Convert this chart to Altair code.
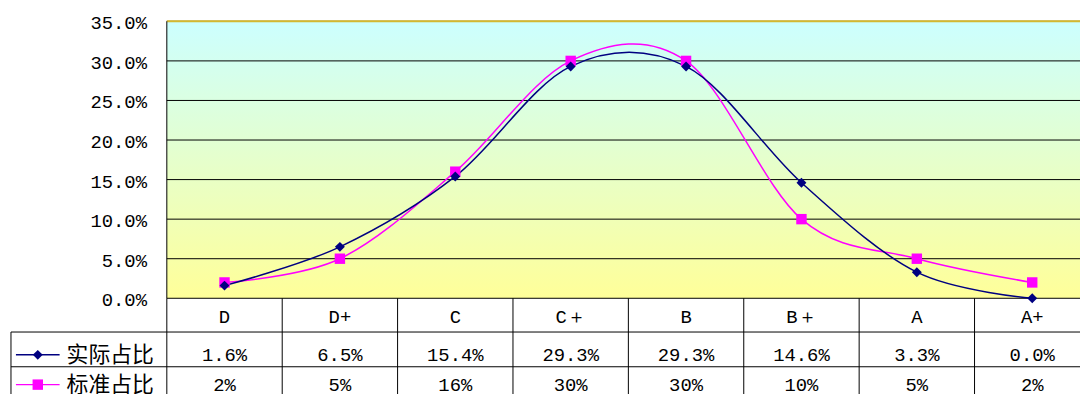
import altair as alt
import pandas as pd

# ---- data ----
categories = ["D", "D+", "C", "C＋", "B", "B＋", "A", "A+"]
actual = [1.6, 6.5, 15.4, 29.3, 29.3, 14.6, 3.3, 0.0]      # 实际占比 (%)
standard = [2, 5, 16, 30, 30, 10, 5, 2]                      # 标准占比 (%)
series_names = ["实际占比", "标准占比"]
y_ticks = [0, 0.05, 0.10, 0.15, 0.20, 0.25, 0.30, 0.35]

# ---- layout / style ----
W, H = 920, 279
STEP = 116.25
NAVY, MAG = "#000080", "#FF00FF"
MONO, CJK = "Liberation Mono", "Noto Sans CJK SC"
FS = 19

idx = list(range(len(categories)))
df_act = pd.DataFrame({"idx": idx, "cat": categories,
                       "v": [a / 100 for a in actual],
                       "label": [f"{a:.1f}%" for a in actual]})
df_std = pd.DataFrame({"idx": idx, "cat": categories,
                       "v": [s / 100 for s in standard],
                       "label": [f"{s:g}%" for s in standard]})
df_ticks = pd.DataFrame({"g": y_ticks, "lab": [f"{t * 100:.1f}%" for t in y_ticks]})
one = pd.DataFrame({"a": [0]})

xs = alt.Scale(domain=[-0.5, 7.5], range=[0, 8 * STEP])
ys = alt.Scale(domain=[0, 0.35])


def X(f):
    return alt.X(f"{f}:Q", scale=xs, axis=None)


def Y(f):
    return alt.Y(f"{f}:Q", scale=ys, axis=None)


bg = alt.Chart(one).mark_rect(
    fill=alt.Gradient(gradient="linear",
                      stops=[alt.GradientStop(color="#CCFFFF", offset=0),
                             alt.GradientStop(color="#FFFF99", offset=1)],
                      x1=0, x2=0, y1=0, y2=1)
).encode(x=alt.value(0), x2=alt.value(W), y=alt.value(0), y2=alt.value(H))

grid = alt.Chart(df_ticks).mark_rule(color="black", strokeWidth=1).encode(
    x=alt.value(0), x2=alt.value(W), y=Y("g"))
ylabels = alt.Chart(df_ticks).mark_text(
    font=MONO, fontSize=FS, baseline="middle", align="right", color="black", dy=2
).encode(x=alt.value(-20), y=Y("g"), text="lab:N")

top_border = alt.Chart(one).mark_rule(color="#D4B830", strokeWidth=2).encode(
    x=alt.value(0), x2=alt.value(W), y=alt.value(0))
left_border = alt.Chart(one).mark_rule(color="black", strokeWidth=1).encode(
    x=alt.value(0), y=alt.value(0), y2=alt.value(H))

line_act = alt.Chart(df_act).mark_line(color=NAVY, strokeWidth=1.5,
                                       interpolate="cardinal", tension=0).encode(x=X("idx"), y=Y("v"))
line_std = alt.Chart(df_std).mark_line(color=MAG, strokeWidth=1.5,
                                       interpolate="cardinal", tension=0).encode(x=X("idx"), y=Y("v"))
pts_act = alt.Chart(df_act).mark_point(shape="diamond", filled=True, color=NAVY,
                                       size=100, opacity=1).encode(x=X("idx"), y=Y("v"))
pts_std = alt.Chart(df_std).mark_point(shape="square", filled=True, color=MAG,
                                       size=110, opacity=1).encode(x=X("idx"), y=Y("v"))

# ---- data table ----
bounds = pd.DataFrame({"b": [i - 0.5 for i in range(len(categories) + 1)]})
vlines = alt.Chart(bounds).mark_rule(color="black", strokeWidth=1).encode(
    x=X("b"), y=alt.value(H), y2=alt.value(H + 130))
hline1 = alt.Chart(one).mark_rule(color="black", strokeWidth=1).encode(
    x=alt.value(-157), x2=alt.value(W), y=alt.value(313))
hline2 = alt.Chart(one).mark_rule(color="black", strokeWidth=1).encode(
    x=alt.value(-157), x2=alt.value(W), y=alt.value(348))
lline = alt.Chart(one).mark_rule(color="black", strokeWidth=1).encode(
    x=alt.value(-157), y=alt.value(313), y2=alt.value(H + 130))

txt_kw = dict(font=MONO, fontSize=FS, baseline="middle", align="center", color="black")
cat_txt = alt.Chart(df_act).mark_text(**txt_kw).encode(x=X("idx"), y=alt.value(298), text="cat:N")
act_txt = alt.Chart(df_act).mark_text(**txt_kw).encode(x=X("idx"), y=alt.value(336), text="label:N")
std_txt = alt.Chart(df_std).mark_text(**txt_kw).encode(x=X("idx"), y=alt.value(366), text="label:N")

leg_rule1 = alt.Chart(one).mark_rule(color=NAVY, strokeWidth=1.5).encode(
    x=alt.value(-152), x2=alt.value(-108), y=alt.value(336))
leg_pt1 = alt.Chart(one).mark_point(shape="diamond", filled=True, color=NAVY, size=100, opacity=1).encode(
    x=alt.value(-130), y=alt.value(336))
leg_rule2 = alt.Chart(one).mark_rule(color=MAG, strokeWidth=1.5).encode(
    x=alt.value(-152), x2=alt.value(-108), y=alt.value(366))
leg_pt2 = alt.Chart(one).mark_point(shape="square", filled=True, color=MAG, size=110, opacity=1).encode(
    x=alt.value(-130), y=alt.value(366))
leg_txt1 = alt.Chart(pd.DataFrame({"name": [series_names[0]]})).mark_text(
    font=CJK, fontSize=22, baseline="middle", align="left", color="black").encode(
    x=alt.value(-101), y=alt.value(336), text="name:N")
leg_txt2 = alt.Chart(pd.DataFrame({"name": [series_names[1]]})).mark_text(
    font=CJK, fontSize=22, baseline="middle", align="left", color="black").encode(
    x=alt.value(-101), y=alt.value(366), text="name:N")

chart = alt.layer(
    bg, grid, ylabels, top_border, left_border,
    line_std, line_act, pts_std, pts_act,
    vlines, hline1, hline2, lline,
    cat_txt, act_txt, std_txt,
    leg_rule1, leg_pt1, leg_rule2, leg_pt2, leg_txt1, leg_txt2,
).properties(
    width=W, height=H,
    autosize=alt.AutoSizeParams(type="none"),
    padding={"left": 160, "top": 12, "right": 0, "bottom": 95},
    background="white",
).configure_view(stroke=None)

chart.save("out.html", embed_options={"renderer": "svg", "actions": False})
